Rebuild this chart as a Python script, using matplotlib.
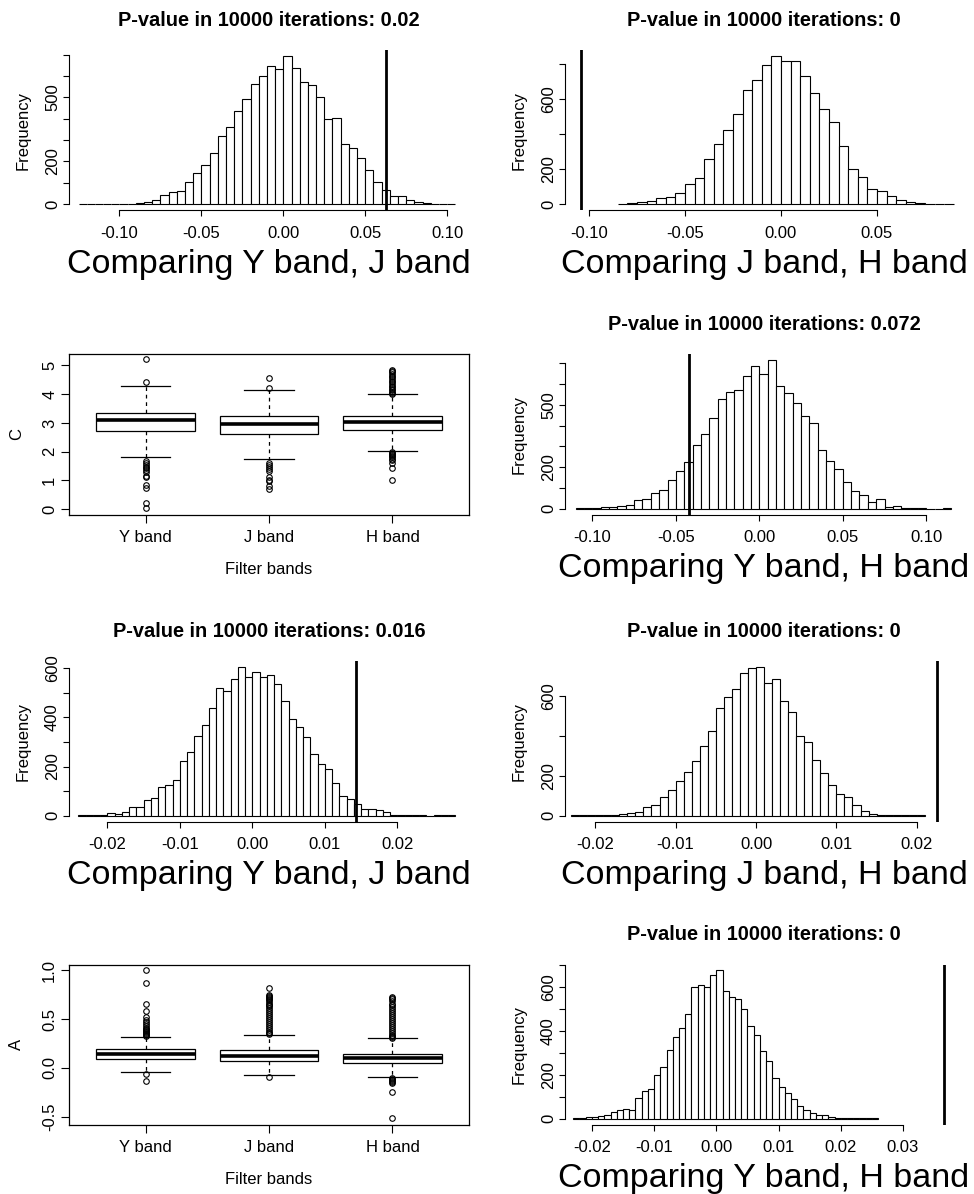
import numpy as np
import matplotlib
matplotlib.use("Agg")
import matplotlib.pyplot as plt

plt.rcParams['font.family'] = ['Liberation Sans', 'DejaVu Sans']
plt.rcParams['axes.unicode_minus'] = False

# ---------------- data ----------------
title_fmt = "P-value in 10000 iterations: {}"

# Panel 1: Y vs J (first statistic)
p1_start, p1_bw = -0.125, 0.005
p1_counts = [1, 0, 0, 1, 1, 1, 2, 3, 11, 17, 41, 57, 63, 105, 144, 185, 240, 319, 361,
             436, 491, 564, 603, 648, 634, 695, 637, 575, 559, 504, 397, 405, 281, 265,
             217, 159, 102, 67, 38, 39, 17, 11, 5, 2, 1, 1]
p1_obs = 0.0627
p1_pval = "0.02"
p1_xticks = [-0.10, -0.05, 0.00, 0.05, 0.10]
p1_xlabels = ["-0.10", "-0.05", "0.00", "0.05", "0.10"]
p1_yticks = [0, 100, 200, 300, 400, 500, 600, 700]
p1_ylabels = ["0", "", "200", "", "", "500", "", ""]

# Panel 2: J vs H (first statistic)
p2_start, p2_bw = -0.085, 0.005
p2_counts = [2, 5, 9, 15, 34, 42, 64, 114, 150, 256, 345, 421, 514, 654, 709, 796, 847,
             817, 817, 734, 635, 544, 468, 332, 203, 155, 89, 76, 44, 21, 11, 6, 2, 1, 1]
p2_obs = -0.1043
p2_pval = "0"
p2_xticks = [-0.10, -0.05, 0.00, 0.05]
p2_xlabels = ["-0.10", "-0.05", "0.00", "0.05"]
p2_yticks = [0, 200, 400, 600, 800]
p2_ylabels = ["0", "200", "", "600", ""]

# Panel 4: Y vs H (first statistic)
p4_start, p4_bw = -0.110, 0.005
p4_counts = [1, 2, 5, 6, 6, 13, 16, 40, 47, 75, 90, 136, 180, 225, 305, 360, 435, 528,
             562, 573, 640, 689, 648, 716, 592, 557, 507, 448, 411, 284, 228, 189, 127,
             83, 64, 30, 45, 8, 10, 5, 1, 1, 0, 0, 1]
p4_obs = -0.0423
p4_pval = "0.072"
p4_xticks = [-0.10, -0.05, 0.00, 0.05, 0.10]
p4_xlabels = ["-0.10", "-0.05", "0.00", "0.05", "0.10"]
p4_yticks = [0, 100, 200, 300, 400, 500, 600, 700]
p4_ylabels = ["0", "", "200", "", "", "500", "", ""]

# Panel 5: Y vs J (second statistic)
p5_start, p5_bw = -0.024, 0.001
p5_counts = [1, 1, 3, 4, 10, 8, 16, 33, 35, 65, 70, 116, 126, 147, 221, 258, 326, 370,
             437, 520, 509, 557, 606, 563, 587, 565, 572, 536, 469, 393, 363, 321, 250,
             211, 188, 132, 78, 67, 48, 25, 25, 23, 15, 4, 3, 2, 1, 1, 0, 1, 1, 1]
p5_obs = 0.01434
p5_pval = "0.016"
p5_xticks = [-0.02, -0.01, 0.00, 0.01, 0.02]
p5_xlabels = ["-0.02", "-0.01", "0.00", "0.01", "0.02"]
p5_yticks = [0, 100, 200, 300, 400, 500, 600]
p5_ylabels = ["0", "", "200", "", "400", "", "600"]

# Panel 6: J vs H (second statistic)
p6_start, p6_bw = -0.023, 0.001
p6_counts = [1, 1, 1, 2, 3, 5, 7, 13, 20, 45, 52, 94, 127, 173, 218, 275, 352, 425, 541,
             595, 637, 719, 744, 747, 667, 685, 578, 521, 400, 370, 278, 213, 152, 107,
             94, 52, 23, 7, 5, 3, 2, 1, 1, 1]
p6_obs = 0.02255
p6_pval = "0"
p6_xticks = [-0.02, -0.01, 0.00, 0.01, 0.02]
p6_xlabels = ["-0.02", "-0.01", "0.00", "0.01", "0.02"]
p6_yticks = [0, 200, 400, 600]
p6_ylabels = ["0", "200", "", "600"]

# Panel 8: Y vs H (second statistic)
p8_start, p8_bw = -0.023, 0.001
p8_counts = [1, 2, 5, 6, 11, 18, 29, 40, 44, 41, 96, 124, 133, 197, 235, 311, 373, 412,
             476, 598, 609, 600, 655, 675, 583, 553, 545, 501, 421, 379, 308, 261, 185,
             145, 116, 89, 56, 41, 24, 17, 15, 6, 3, 3, 2, 1, 1, 1, 1]
p8_obs = 0.0366
p8_pval = "0"
p8_xticks = [-0.02, -0.01, 0.00, 0.01, 0.02, 0.03]
p8_xlabels = ["-0.02", "-0.01", "0.00", "0.01", "0.02", "0.03"]
p8_yticks = [0, 100, 200, 300, 400, 500, 600, 700]
p8_ylabels = ["0", "", "200", "", "400", "", "600", ""]

# Boxplots
bands = ["Y band", "J band", "H band"]

C_q1 = [2.73, 2.63, 2.76]
C_med = [3.10, 2.96, 3.02]
C_q3 = [3.345, 3.24, 3.25]
C_whislo = [1.83, 1.74, 2.03]
C_whishi = [4.27, 4.14, 4.00]
C_fliers = [
    [5.23, 4.44, 1.68, 1.62, 1.55, 1.48, 1.42, 1.35, 1.28, 1.15, 1.10, 0.84, 0.72, 0.20, 0.05],
    [4.55, 4.20, 1.62, 1.55, 1.48, 1.40, 1.32, 1.10, 1.02, 0.96, 0.80, 0.71],
    [4.86, 4.80, 4.77, 4.72, 4.65, 4.60, 4.53, 4.47, 4.41, 4.36, 4.30, 4.24, 4.18, 4.13,
     4.07, 4.04, 4.01, 1.98, 1.95, 1.92, 1.88, 1.85, 1.80, 1.75, 1.70, 1.60, 1.42, 1.02],
]
C_yticks = [0, 1, 2, 3, 4, 5]
C_ylabels = ["0", "1", "2", "3", "4", "5"]

A_q1 = [0.092, 0.071, 0.051]
A_med = [0.139, 0.126, 0.098]
A_q3 = [0.190, 0.180, 0.146]
A_whislo = [-0.044, -0.075, -0.092]
A_whishi = [0.319, 0.339, 0.305]
A_fliers = [
    [1.00, 0.87, 0.66, 0.58, 0.52, 0.49, 0.47, 0.45, 0.43, 0.41, 0.40, 0.39, 0.38, 0.37,
     0.36, 0.35, 0.34, 0.33, -0.061, -0.136],
    [0.82, 0.75, 0.74, 0.73, 0.72, 0.71, 0.70, 0.68, 0.66, 0.65, 0.63, 0.61, 0.59, 0.57,
     0.55, 0.53, 0.51, 0.49, 0.47, 0.45, 0.43, 0.41, 0.39, 0.37, 0.36, 0.35, -0.088],
    [0.73, 0.72, 0.71, 0.69, 0.66, 0.64, 0.62, 0.60, 0.58, 0.56, 0.54, 0.52, 0.50, 0.48,
     0.46, 0.44, 0.42, 0.40, 0.38, 0.36, 0.34, 0.33, 0.32, 0.31, -0.105, -0.115, -0.125,
     -0.135, -0.145, -0.155, -0.244, -0.516],
]
A_yticks = [-0.5, 0.0, 0.5, 1.0]
A_ylabels = ["-0.5", "0.0", "0.5", "1.0"]

# ---------------- layout ----------------
W, H = 974, 1194
fig = plt.figure(figsize=(W / 100, H / 100), dpi=100)
fig.patch.set_facecolor('white')

COLS = [(69, 469), (565, 963)]
ROWS = [(50, 210), (354, 514.5), (661, 821.5), (964.5, 1124.5)]


def make_ax(col, row):
    l, r = COLS[col]
    t, b = ROWS[row]
    return fig.add_axes([l / W, 1 - b / H, (r - l) / W, (b - t) / H])


def hist_panel(ax, start, bw, counts, obs, xlim, xticks, xlabels, yticks, ylabels,
               pval, xlabel):
    edges = start + bw * np.arange(len(counts))
    ax.bar(edges, counts, width=bw, align='edge', color='white',
           edgecolor='black', linewidth=0.8, zorder=2)
    ax.axvline(obs, color='black', lw=2.0, zorder=3)
    ymax = max(counts)
    ax.set_ylim(-0.04 * ymax, 1.04 * ymax)
    ax.set_xlim(*xlim)
    for s in ['top', 'right']:
        ax.spines[s].set_visible(False)
    ax.spines['bottom'].set_bounds(xticks[0], xticks[-1])
    ax.spines['left'].set_bounds(yticks[0], yticks[-1])
    for s in ['bottom', 'left']:
        ax.spines[s].set_linewidth(0.8)
    ax.set_xticks(xticks)
    ax.set_xticklabels(xlabels, fontsize=12)
    ax.set_yticks(yticks)
    ax.set_yticklabels(ylabels, fontsize=12, rotation=90, va='center')
    ax.tick_params(axis='x', length=4.5, width=0.8, pad=7)
    ax.tick_params(axis='y', length=4.5, width=0.8, pad=2)
    ax.set_title(title_fmt.format(pval), fontsize=14.4, fontweight='bold', pad=17.5)
    ax.set_xlabel(xlabel, fontsize=24.5, labelpad=5.5)
    ax.set_ylabel("Frequency", fontsize=12, labelpad=10)


def box_panel(ax, q1, med, q3, wlo, whi, fliers, ylim, yticks, ylabels, ylabel):
    stats = []
    for i in range(len(bands)):
        stats.append(dict(q1=q1[i], med=med[i], q3=q3[i], whislo=wlo[i],
                          whishi=whi[i], fliers=fliers[i], label=bands[i]))
    ax.bxp(stats, positions=[1, 2, 3], widths=0.8, patch_artist=True,
           boxprops=dict(facecolor='white', edgecolor='black', linewidth=0.9),
           medianprops=dict(color='black', linewidth=2.6),
           whiskerprops=dict(color='black', linewidth=0.9, linestyle=(0, (3, 3))),
           capprops=dict(color='black', linewidth=0.9),
           flierprops=dict(marker='o', markersize=4, markerfacecolor='none',
                           markeredgecolor='black', markeredgewidth=0.8, linestyle='none'),
           capwidths=0.4)
    ax.set_xlim(0.38, 3.62)
    ax.set_ylim(*ylim)
    for s in ax.spines.values():
        s.set_linewidth(0.9)
    ax.set_xticks([1, 2, 3])
    ax.set_xticklabels(bands, fontsize=12)
    ax.set_yticks(yticks)
    ax.set_yticklabels(ylabels, fontsize=12, rotation=90, va='center')
    ax.tick_params(axis='x', length=5.5, width=0.8, pad=5.5)
    ax.tick_params(axis='y', length=5.5, width=0.8, pad=3)
    ax.set_xlabel("Filter bands", fontsize=12, labelpad=12.5)
    ax.set_ylabel(ylabel, fontsize=12, labelpad=13)


ax1 = make_ax(0, 0)
hist_panel(ax1, p1_start, p1_bw, p1_counts, p1_obs, (-0.1308, 0.1133), p1_xticks,
           p1_xlabels, p1_yticks, p1_ylabels, p1_pval, "Comparing Y band, J band")

ax2 = make_ax(1, 0)
hist_panel(ax2, p2_start, p2_bw, p2_counts, p2_obs, (-0.1125, 0.0948), p2_xticks,
           p2_xlabels, p2_yticks, p2_ylabels, p2_pval, "Comparing J band, H band")

ax3 = make_ax(0, 1)
box_panel(ax3, C_q1, C_med, C_q3, C_whislo, C_whishi, C_fliers, (-0.19, 5.40),
          C_yticks, C_ylabels, "C")

ax4 = make_ax(1, 1)
hist_panel(ax4, p4_start, p4_bw, p4_counts, p4_obs, (-0.1164, 0.1220), p4_xticks,
           p4_xlabels, p4_yticks, p4_ylabels, p4_pval, "Comparing Y band, H band")

ax5 = make_ax(0, 2)
hist_panel(ax5, p5_start, p5_bw, p5_counts, p5_obs, (-0.02528, 0.02989), p5_xticks,
           p5_xlabels, p5_yticks, p5_ylabels, p5_pval, "Comparing Y band, J band")

ax6 = make_ax(1, 2)
hist_panel(ax6, p6_start, p6_bw, p6_counts, p6_obs, (-0.02376, 0.02575), p6_xticks,
           p6_xlabels, p6_yticks, p6_ylabels, p6_pval, "Comparing J band, H band")

ax7 = make_ax(0, 3)
box_panel(ax7, A_q1, A_med, A_q3, A_whislo, A_whishi, A_fliers, (-0.58, 1.06),
          A_yticks, A_ylabels, "A")

ax8 = make_ax(1, 3)
hist_panel(ax8, p8_start, p8_bw, p8_counts, p8_obs, (-0.02433, 0.03966), p8_xticks,
           p8_xlabels, p8_yticks, p8_ylabels, p8_pval, "Comparing Y band, H band")

fig.savefig("out.png", dpi=100, facecolor='white')
